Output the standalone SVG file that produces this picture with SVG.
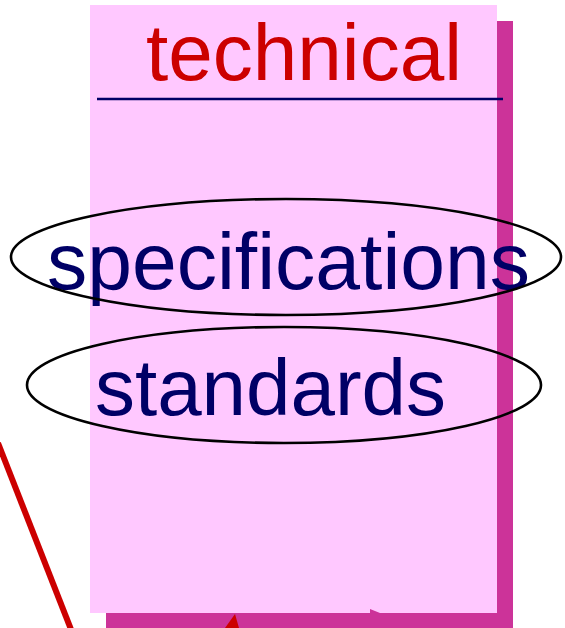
<svg xmlns="http://www.w3.org/2000/svg" width="565" height="628" viewBox="0 0 565 628">
  <style>
    .label { font-family: "Liberation Sans", Arial, sans-serif; font-size: 80px; }
    .navy { fill: #000066; }
    .red { fill: #CC0000; }
    .ring { fill: none; stroke: #000000; stroke-width: 2.6; }
  </style>
  <!-- card with drop shadow -->
  <g id="card">
    <rect x="106" y="21" width="407" height="607" fill="#CC3399"/>
    <rect x="90" y="5" width="407" height="608" fill="#FFC8FF"/>
  </g>
  <g id="title">
    <text class="label red" x="146" y="80" textLength="316" lengthAdjust="spacingAndGlyphs">technical</text>
    <line x1="97" y1="99" x2="503" y2="99" stroke="#000066" stroke-width="2.5"/>
  </g>
  <g id="specifications">
    <text class="label navy" x="47" y="289" textLength="483" lengthAdjust="spacingAndGlyphs">specifications</text>
    <ellipse class="ring" cx="286" cy="257" rx="275" ry="58"/>
  </g>
  <g id="standards">
    <text class="label navy" x="95" y="415" textLength="351" lengthAdjust="spacingAndGlyphs">standards</text>
    <ellipse class="ring" cx="284" cy="385" rx="257" ry="58"/>
  </g>
  <!-- connectors -->
  <g id="connectors">
    <line x1="-2" y1="443" x2="72" y2="632" stroke="#CC0000" stroke-width="6"/>
    <polygon points="225,628 235,614 239,628" fill="#CC0000"/>
    <polygon points="370,609 380,613 370,613" fill="#CC3399"/>
  </g>
</svg>
